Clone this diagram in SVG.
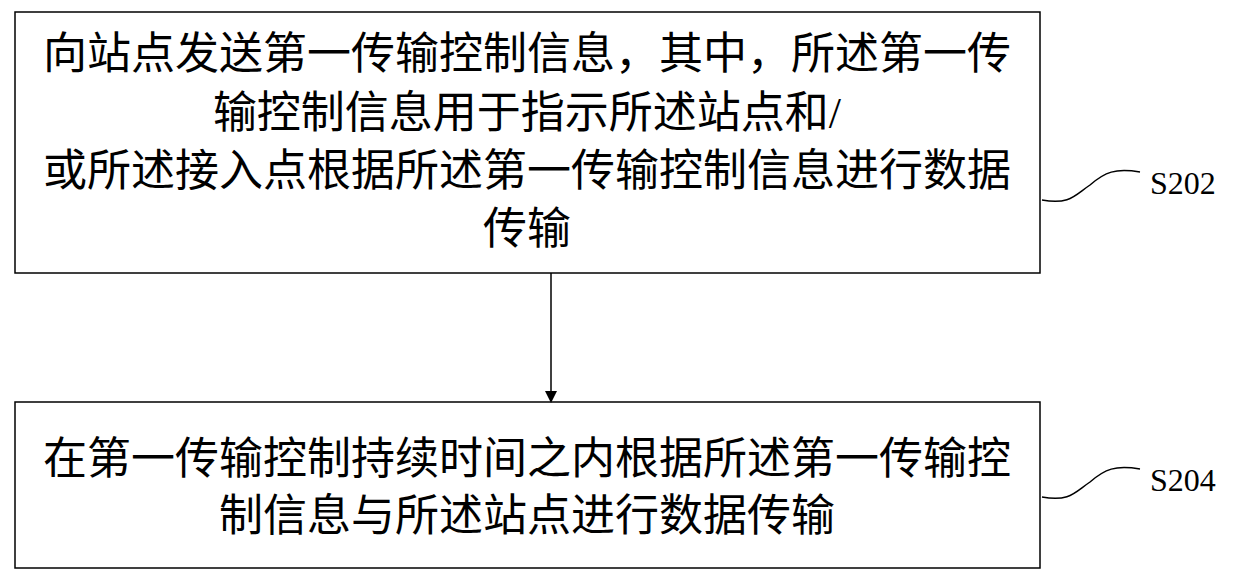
<svg xmlns="http://www.w3.org/2000/svg" width="1233" height="585" viewBox="0 0 1233 585">
<style>
.b{fill:#fff;stroke:#000;stroke-width:1.5}
.t{font-family:"Liberation Serif","Noto Sans CJK SC",serif;font-size:44px;text-anchor:middle}
.l{font-family:"Liberation Serif",serif;font-size:32px}
.c{fill:none;stroke:#000;stroke-width:1.5}
</style>
<defs><marker id="a" markerWidth="12" markerHeight="12" refX="10" refY="6" orient="auto" markerUnits="userSpaceOnUse"><path d="M0,0 L12,6 L0,12 Z"/></marker></defs>
<rect width="1233" height="585" fill="#fff"/>
<g id="n1"><rect class="b" x="15" y="12" width="1025" height="261"/>
<text class="t" x="527" y="69">向站点发送第一传输控制信息，其中，所述第一传</text>
<text class="t" x="527" y="128">输控制信息用于指示所述站点和/</text>
<text class="t" x="527" y="186">或所述接入点根据所述第一传输控制信息进行数据</text>
<text class="t" x="527" y="244">传输</text></g>
<g id="n2"><rect class="b" x="15" y="402" width="1025" height="166"/>
<text class="t" x="527" y="474">在第一传输控制持续时间之内根据所述第一传输控</text>
<text class="t" x="527" y="531">制信息与所述站点进行数据传输</text></g>
<g id="connectors">
<line class="c" x1="551" y1="273" x2="551" y2="401" marker-end="url(#a)"/>
<path class="c" d="M1042,200 C1070,205 1075,195 1090,185 C1105,172 1115,168 1140,172"/>
<path class="c" d="M1042,497 C1070,502 1075,492 1090,482 C1105,469 1115,465 1140,469"/>
</g>
<g id="labels"><text class="l" x="1150" y="194">S202</text><text class="l" x="1150" y="491">S204</text></g>
</svg>
